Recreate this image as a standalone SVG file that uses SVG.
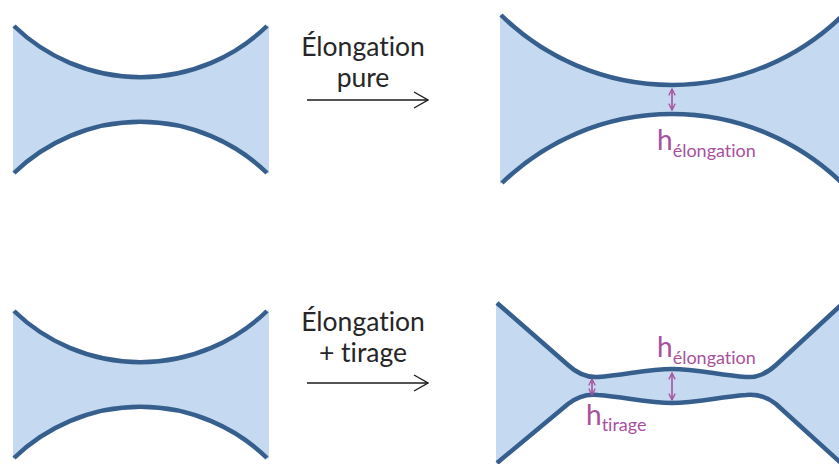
<svg xmlns="http://www.w3.org/2000/svg" width="839" height="464" viewBox="0 0 839 464">
<style>
.fill{fill:#c5d9f0;stroke:none}
.edge{fill:none;stroke:#365f8d;stroke-width:4.5;stroke-linecap:butt}
.lbl{font-family:Lato,"Open Sans",sans-serif;font-size:26.5px;fill:#262626;text-anchor:middle;font-variant-ligatures:none}
.h{font-family:Lato,"Open Sans",sans-serif;font-size:28px;fill:#a8509e;font-variant-ligatures:none}
.sub{font-size:18px}
.conn{fill:none;stroke:#1a1a1a;stroke-width:1.3}
.dim{fill:none;stroke:#a8509e;stroke-width:1.6}
</style>
<defs>
<marker id="open" viewBox="0 0 16 18" refX="15" refY="9" markerWidth="16" markerHeight="18" markerUnits="userSpaceOnUse" orient="auto">
<path d="M1,1 L15,9 L1,17" fill="none" stroke="#1a1a1a" stroke-width="1.3"/>
</marker>
<marker id="dimh" viewBox="0 0 10 10" refX="9" refY="5" markerWidth="8" markerHeight="8" markerUnits="userSpaceOnUse" orient="auto-start-reverse">
<path d="M1,1 L9,5 L1,9" fill="none" stroke="#a8509e" stroke-width="1.6"/>
</marker>
</defs>

<g id="shape-top-left">
<path class="fill" d="M13,25 L14,26 A182,182 0 0 0 267,26 L269,25 L269,174 L267,173 A182,182 0 0 0 14,173 L13,174 Z"/>
<path class="edge" d="M14,26 A182,182 0 0 0 267,26"/>
<path class="edge" d="M14,173 A182,182 0 0 1 267,173"/>
</g>

<g id="shape-bottom-left">
<path class="fill" d="M13,310 L14,311 A182,182 0 0 0 267,311 L269,310 L269,459 L267,458 A182,182 0 0 0 14,458 L13,459 Z"/>
<path class="edge" d="M14,311 A182,182 0 0 0 267,311"/>
<path class="edge" d="M14,458 A182,182 0 0 1 267,458"/>
</g>

<g id="shape-top-right">
<path class="fill" d="M500,14 L501,15 A244,244 0 0 0 843,15 L843,184 A244,244 0 0 0 502,183 L500,184 Z"/>
<path class="edge" d="M501,15 A244,244 0 0 0 843,15"/>
<path class="edge" d="M502,183 A244,244 0 0 1 842,183"/>
</g>

<g id="shape-bottom-right">
<path class="fill" d="M496,302 L568,365 Q582,378 598,377 C625,375 648,369 672,369 C696,369 719,375 746,377 Q762,378 776,365 L841,305 L841,463 L776,404 Q762,393 746,395 C719,397 696,403 672,403 C648,403 625,397 598,395 Q582,393 568,404 L496,464 Z"/>
<path class="edge" d="M497,303 L568,365 Q582,378 598,377 C625,375 648,369 672,369 C696,369 719,375 746,377 Q762,378 776,365 L841,305"/>
<path class="edge" d="M497,463 L568,404 Q582,393 598,395 C625,397 648,403 672,403 C696,403 719,397 746,395 Q762,393 776,404 L841,463"/>
</g>

<g id="connectors">
<line class="conn" x1="307" y1="100" x2="428" y2="100" marker-end="url(#open)"/>
<line class="conn" x1="307" y1="383" x2="428" y2="383" marker-end="url(#open)"/>
<line class="dim" x1="672" y1="89" x2="672" y2="110" marker-start="url(#dimh)" marker-end="url(#dimh)"/>
<line class="dim" x1="672" y1="373" x2="672" y2="400" marker-start="url(#dimh)" marker-end="url(#dimh)"/>
<line class="dim" x1="592" y1="379" x2="592" y2="395" marker-start="url(#dimh)" marker-end="url(#dimh)"/>
</g>

<g id="label-top">
<text class="lbl" x="363" y="56">Élongation</text>
<text class="lbl" x="363" y="87">pure</text>
</g>
<g id="label-bottom">
<text class="lbl" x="363" y="331">Élongation</text>
<text class="lbl" x="363" y="362">+ tirage</text>
</g>

<g id="h-elongation-top">
<text class="h" x="657" y="150">h<tspan class="sub" dy="7">élongation</tspan></text>
</g>
<g id="h-elongation-bottom">
<text class="h" x="657" y="357">h<tspan class="sub" dy="7">élongation</tspan></text>
</g>
<g id="h-tirage">
<text class="h" x="586" y="425">h<tspan class="sub" dy="6">tirage</tspan></text>
</g>
</svg>
